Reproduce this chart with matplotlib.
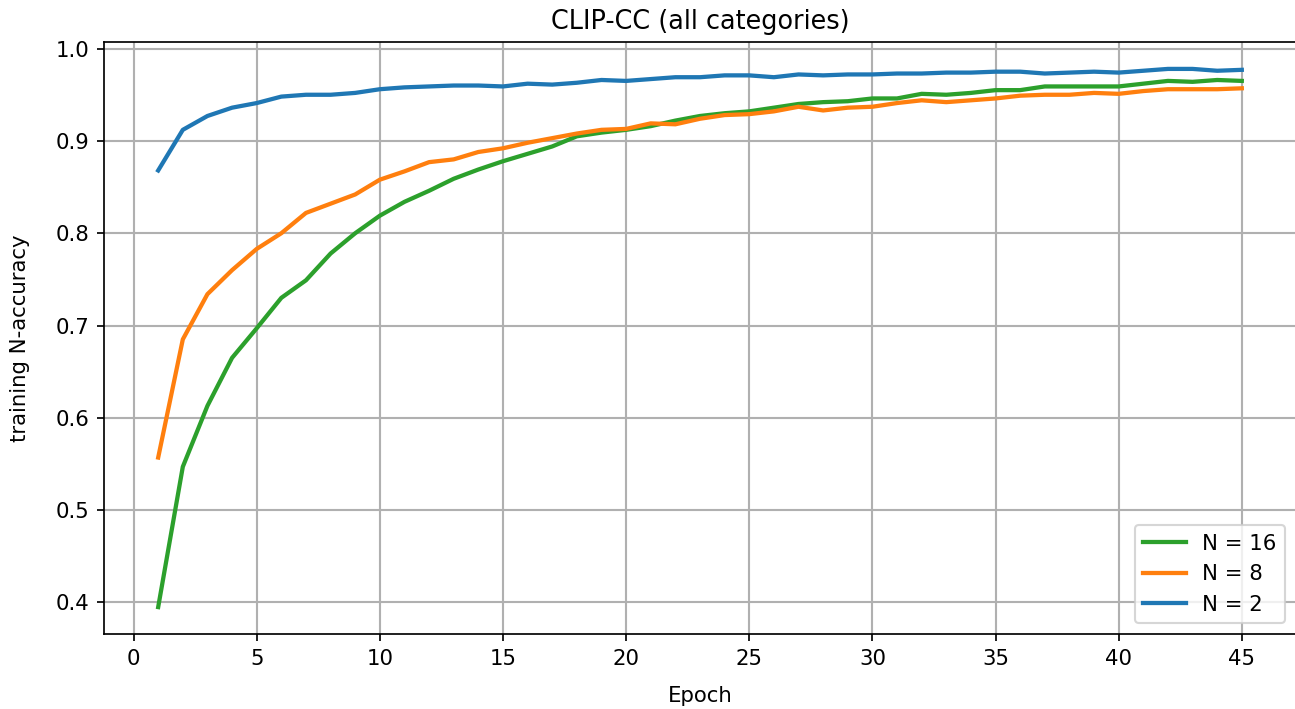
import numpy as np
import matplotlib
matplotlib.use("Agg")
import matplotlib.pyplot as plt

# =========================
# data
# =========================
epochs = list(range(1, 46))

acc_n16 = [0.395, 0.547, 0.613, 0.665, 0.697, 0.730, 0.749, 0.778, 0.800, 0.819,
           0.834, 0.846, 0.859, 0.869, 0.878, 0.886, 0.894, 0.905, 0.909, 0.912,
           0.916, 0.922, 0.927, 0.930, 0.932, 0.936, 0.940, 0.942, 0.943, 0.946,
           0.946, 0.951, 0.950, 0.952, 0.955, 0.955, 0.959, 0.959, 0.959, 0.959,
           0.962, 0.965, 0.964, 0.966, 0.965]

acc_n8 = [0.557, 0.685, 0.734, 0.760, 0.783, 0.800, 0.822, 0.832, 0.842, 0.858,
          0.867, 0.877, 0.880, 0.888, 0.892, 0.898, 0.903, 0.908, 0.912, 0.913,
          0.919, 0.918, 0.924, 0.928, 0.929, 0.932, 0.937, 0.933, 0.936, 0.937,
          0.941, 0.944, 0.942, 0.944, 0.946, 0.949, 0.950, 0.950, 0.952, 0.951,
          0.954, 0.956, 0.956, 0.956, 0.957]

acc_n2 = [0.868, 0.912, 0.927, 0.936, 0.941, 0.948, 0.950, 0.950, 0.952, 0.956,
          0.958, 0.959, 0.960, 0.960, 0.959, 0.962, 0.961, 0.963, 0.966, 0.965,
          0.967, 0.969, 0.969, 0.971, 0.971, 0.969, 0.972, 0.971, 0.972, 0.972,
          0.973, 0.973, 0.974, 0.974, 0.975, 0.975, 0.973, 0.974, 0.975, 0.974,
          0.976, 0.978, 0.978, 0.976, 0.977]

# =========================
# plot
# =========================
dpi = 153
fig = plt.figure(figsize=(1295 / dpi, 709 / dpi), dpi=dpi)
ax = fig.add_axes([104 / 1295, 1 - 634 / 709, (1296 - 104) / 1295, (634 - 42) / 709])

ax.plot(epochs, acc_n16, color="tab:green", lw=2, label="N = 16")
ax.plot(epochs, acc_n8, color="tab:orange", lw=2, label="N = 8")
ax.plot(epochs, acc_n2, color="tab:blue", lw=2, label="N = 2")

ax.set_title("CLIP-CC (all categories)")
ax.set_xlabel("Epoch", labelpad=8)
ax.set_ylabel("training N-accuracy", labelpad=12)
ax.set_xticks(range(0, 46, 5))
ax.grid(True, color="#b0b0b0", lw=1)
ax.legend(loc="lower right")

fig.savefig("out.png", dpi=dpi)
